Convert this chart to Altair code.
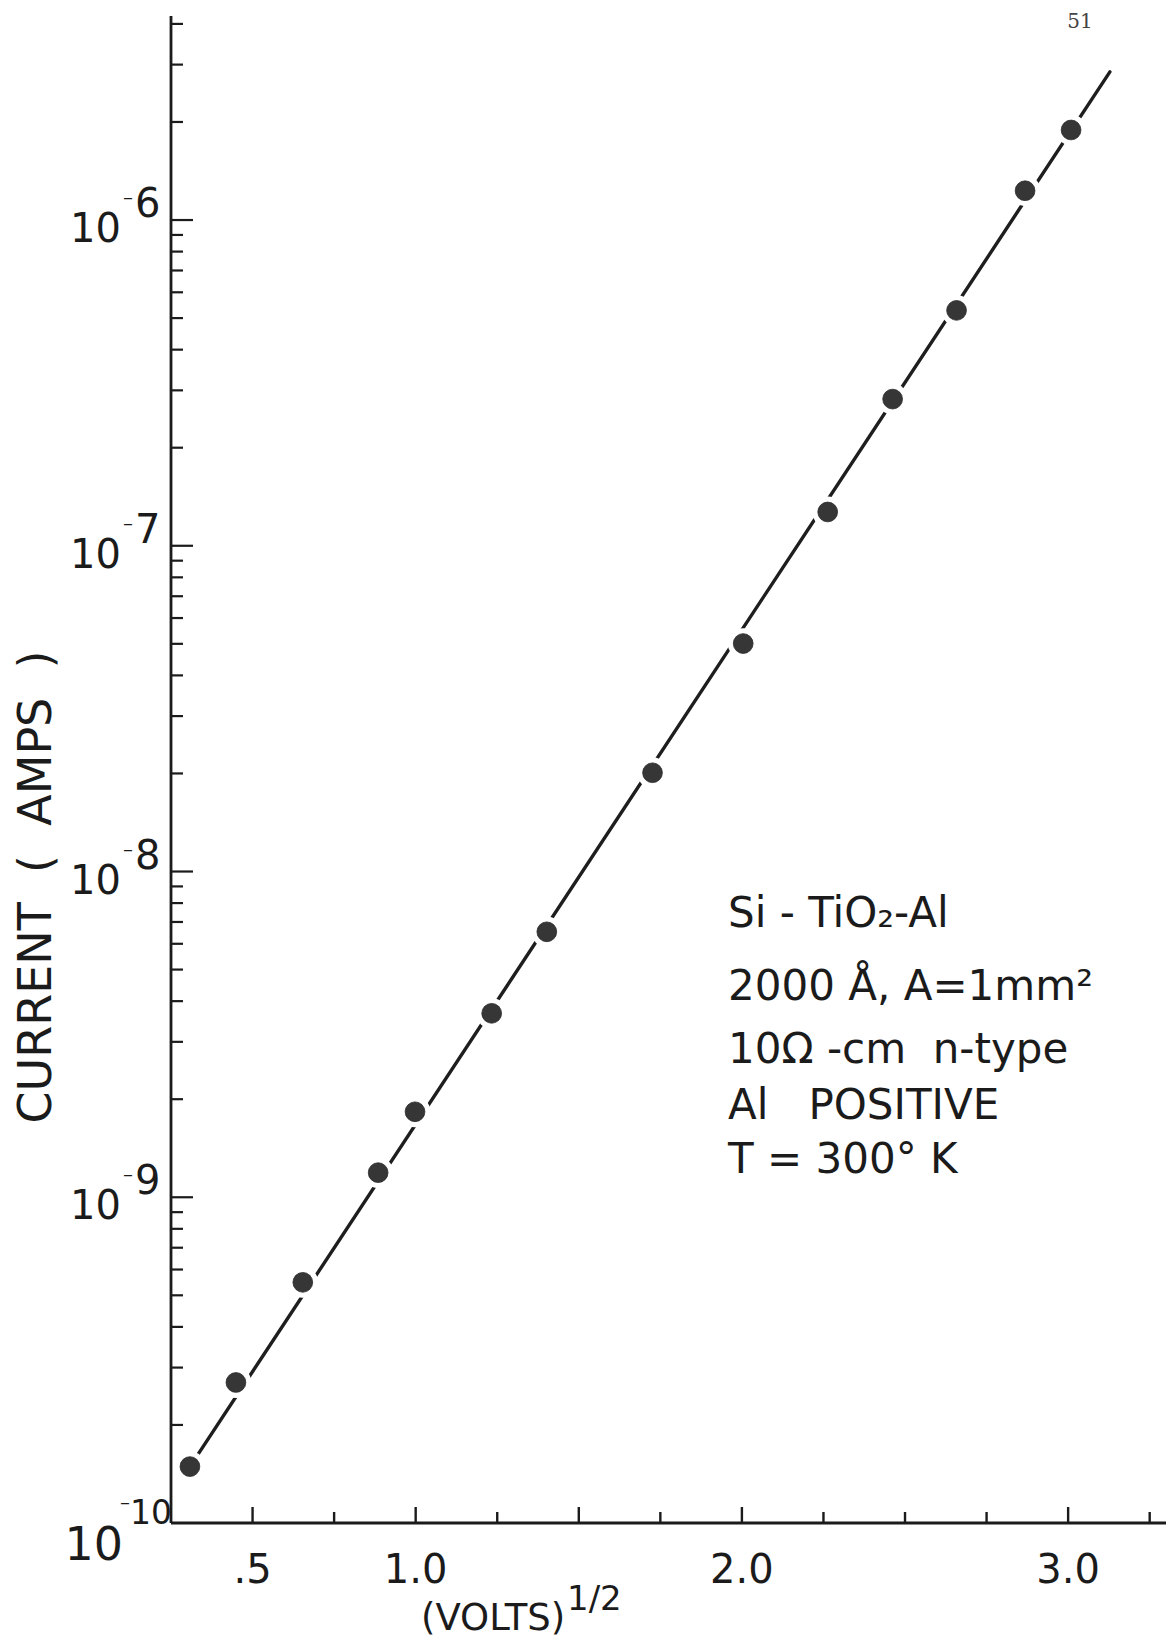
import altair as alt
import pandas as pd

# Measured current versus square root of applied voltage
sqrt_volts = [0.308, 0.449, 0.654, 0.885, 0.998, 1.233, 1.402, 1.726,
              2.004, 2.263, 2.462, 2.658, 2.868, 3.009]
current_amps = [1.49e-10, 2.70e-10, 5.48e-10, 1.19e-9, 1.83e-9, 3.67e-9, 6.53e-9,
                2.01e-8, 5.01e-8, 1.27e-7, 2.82e-7, 5.28e-7, 1.23e-6, 1.89e-6]

# Straight-line fit (log I versus V^1/2), end points
fit_sqrt_volts = [0.308, 3.128]
fit_current = [1.49e-10, 2.85e-6]

# Axis ticks and labels
x_major_ticks = [0.5, 1.0, 1.5, 2.0, 3.0]
x_minor_ticks = [0.75, 1.25, 1.75, 2.25, 2.5, 2.75, 3.25]
x_label_values = [0.5, 1.0, 2.0, 3.0]
x_label_text = [".5", "1.0", "2.0", "3.0"]

decades = [1e-9, 1e-8, 1e-7, 1e-6]
decade_exponents = ["9", "8", "7", "6"]
bottom_decade = [1e-10]
bottom_exponent = ["10"]

X_MIN, X_MAX = 0.25, 3.30
Y_MIN, Y_MAX = 1e-10, 4.23e-6
y_minor_ticks = [m * 10.0 ** e for e in range(-10, -5) for m in range(2, 10)
                 if m * 10.0 ** e <= Y_MAX]

W, H = 995, 1507
FONT = "DejaVu Sans"
INK = "#1b1b1b"
NB = "\u00a0"  # non-breaking space keeps wide gaps in SVG text

xs = alt.Scale(domain=[X_MIN, X_MAX], nice=False, zero=False)
ys = alt.Scale(type="log", domain=[Y_MIN, Y_MAX], nice=False)


def xenc():
    return alt.X("v:Q", scale=xs, axis=None)


def yenc():
    return alt.Y("i:Q", scale=ys, axis=None)


pts = pd.DataFrame({"v": sqrt_volts, "i": current_amps})
fit = pd.DataFrame({"v": fit_sqrt_volts, "i": fit_current})
one = pd.DataFrame({"k": [0]})

# Axis lines
left_axis = alt.Chart(one).mark_rule(color=INK, strokeWidth=2.8).encode(
    x=alt.value(0), y=alt.value(0), y2=alt.value(H))
bottom_axis = alt.Chart(one).mark_rule(color=INK, strokeWidth=2.8).encode(
    x=alt.value(0), x2=alt.value(W), y=alt.value(H))

# Inward tick marks
x_major = alt.Chart(pd.DataFrame({"v": x_major_ticks})).mark_rule(
    color=INK, strokeWidth=2.4).encode(x=xenc(), y=alt.value(H), y2=alt.value(H - 16))
x_minor = alt.Chart(pd.DataFrame({"v": x_minor_ticks})).mark_rule(
    color=INK, strokeWidth=2.4).encode(x=xenc(), y=alt.value(H), y2=alt.value(H - 11))
y_major = alt.Chart(pd.DataFrame({"i": decades})).mark_rule(
    color=INK, strokeWidth=2.2).encode(y=yenc(), x=alt.value(0), x2=alt.value(22))
y_minor = alt.Chart(pd.DataFrame({"i": y_minor_ticks})).mark_rule(
    color=INK, strokeWidth=2.2).encode(y=yenc(), x=alt.value(0), x2=alt.value(12))

# Tick labels
x_labels = alt.Chart(pd.DataFrame({"v": x_label_values, "t": x_label_text})).mark_text(
    font=FONT, fontSize=40, color=INK, align="center", baseline="alphabetic").encode(
    x=xenc(), y=alt.value(H + 60), text="t:N")

dec_df = pd.DataFrame({"i": decades, "e": decade_exponents})
y_ten = alt.Chart(dec_df).mark_text(
    font=FONT, fontSize=40, color=INK, align="right", baseline="alphabetic", dy=22).encode(
    y=yenc(), x=alt.value(-50), text=alt.value("10"))
y_minus = alt.Chart(dec_df).mark_text(
    font=FONT, fontSize=20, color=INK, align="center", baseline="middle", dy=-22).encode(
    y=yenc(), x=alt.value(-43), text=alt.value("\u2013"))
y_exp = alt.Chart(dec_df).mark_text(
    font=FONT, fontSize=40, color=INK, align="left", baseline="alphabetic", dy=-3).encode(
    y=yenc(), x=alt.value(-36), text="e:N")

bot_df = pd.DataFrame({"i": bottom_decade, "e": bottom_exponent})
b_ten = alt.Chart(bot_df).mark_text(
    font=FONT, fontSize=46, color=INK, align="right", baseline="alphabetic", dy=37).encode(
    y=yenc(), x=alt.value(-48), text=alt.value("10"))
b_minus = alt.Chart(bot_df).mark_text(
    font=FONT, fontSize=20, color=INK, align="center", baseline="middle", dy=-20).encode(
    y=yenc(), x=alt.value(-46), text=alt.value("\u2013"))
b_exp = alt.Chart(bot_df).mark_text(
    font=FONT, fontSize=33, color=INK, align="left", baseline="alphabetic", dy=1).encode(
    y=yenc(), x=alt.value(-41), text="e:N")

# Axis titles
y_title = alt.Chart(one).mark_text(
    font=FONT, fontSize=46, color=INK, angle=270, align="center", baseline="middle").encode(
    x=alt.value(-134), y=alt.value(871),
    text=alt.value(f"CURRENT{NB} ({NB} AMPS{NB} )"))
x_title = alt.Chart(one).mark_text(
    font=FONT, fontSize=37, color=INK, align="left", baseline="alphabetic").encode(
    x=alt.value(250), y=alt.value(H + 107), text=alt.value("(VOLTS)"))
x_title_exp = alt.Chart(one).mark_text(
    font=FONT, fontSize=34, color=INK, align="left", baseline="alphabetic").encode(
    x=alt.value(396), y=alt.value(H + 87), text=alt.value("1/2"))

# Fitted line, white halos that break it at each point, and the points
line = alt.Chart(fit).mark_line(color="#1e1e1e", strokeWidth=3.4, strokeCap="round").encode(
    x=xenc(), y=yenc())
halo = alt.Chart(pts).mark_point(
    shape="circle", filled=True, size=950, fill="white", stroke="white",
    strokeWidth=0, opacity=1, fillOpacity=1).encode(x=xenc(), y=yenc())
dots = alt.Chart(pts).mark_point(
    shape="circle", filled=True, size=390, fill="#363636", stroke="#2a2a2a",
    strokeWidth=0.8, opacity=1, fillOpacity=1).encode(x=xenc(), y=yenc())

# Sample description
notes = ["Si - TiO\u2082-Al",
         "2000 \u00c5, A=1mm\u00b2",
         f"10\u03a9 -cm{NB} n-type",
         f"Al{NB}{NB} POSITIVE",
         "T = 300\u00b0 K"]
note_y = [911, 984, 1047, 1103, 1157]
note_layers = [
    alt.Chart(one).mark_text(font=FONT, fontSize=42, color=INK, align="left",
                             baseline="alphabetic").encode(
        x=alt.value(557), y=alt.value(yy), text=alt.value(t))
    for t, yy in zip(notes, note_y)
]

page_no = alt.Chart(one).mark_text(
    font="DejaVu Serif", fontSize=20, color="#444444", align="center", baseline="middle").encode(
    x=alt.value(909), y=alt.value(6), text=alt.value("51"))

chart = alt.layer(
    left_axis, bottom_axis, x_major, x_minor, y_major, y_minor,
    x_labels, y_ten, y_minus, y_exp, b_ten, b_minus, b_exp,
    y_title, x_title, x_title_exp,
    line, halo, dots, *note_layers, page_no,
).properties(
    width=W, height=H,
    padding={"left": 171, "top": 16, "right": 3, "bottom": 120},
    autosize=alt.AutoSizeParams(type="none"),
    background="white",
).configure_view(stroke=None)

chart.save("out.html", embed_options={"renderer": "svg", "actions": False})
